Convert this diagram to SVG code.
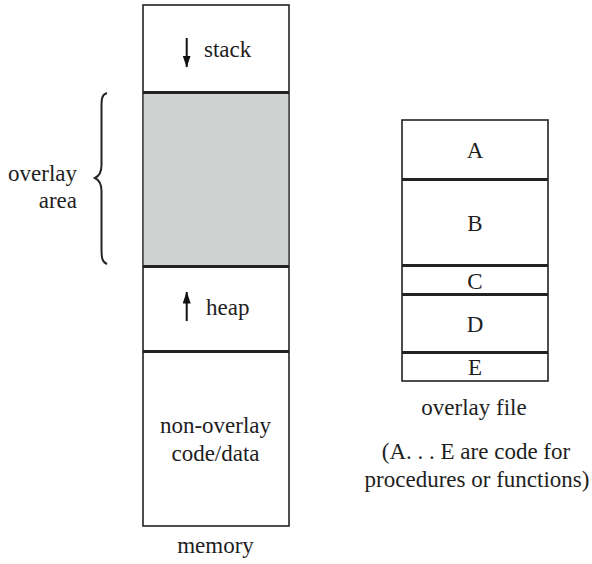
<svg xmlns="http://www.w3.org/2000/svg" width="592" height="564" viewBox="0 0 592 564">
<defs>
<style>
text{font-family:"Liberation Serif","Times New Roman",serif;font-size:23px;fill:#1e1e1e}
.box{fill:#fff;stroke:#222;stroke-width:1.6}
.sep{stroke:#222;stroke-width:3}
.c{text-anchor:middle}
.r{text-anchor:end}
.arr{stroke:#111;stroke-width:2}
</style>
<marker id="ah" viewBox="0 0 12 8" refX="11.5" refY="4" markerWidth="12" markerHeight="8" orient="auto" markerUnits="userSpaceOnUse"><path d="M0,0 L12,4 L0,8 z" fill="#111"/></marker>
</defs>
<g id="memory">
<rect class="box" x="143" y="5" width="146" height="521"/>
<rect x="143.8" y="93" width="144.4" height="174" fill="#d0d1d1"/>
<line class="sep" x1="143" y1="92.5" x2="289" y2="92.5"/>
<line class="sep" x1="143" y1="266.5" x2="289" y2="266.5"/>
<line class="sep" x1="143" y1="351.5" x2="289" y2="351.5"/>
<text x="215.5" y="553" class="c">memory</text>
</g>
<g id="stack">
<line class="arr" x1="186.7" y1="38" x2="186.7" y2="67" marker-end="url(#ah)"/>
<text x="204" y="57">stack</text>
</g>
<g id="heap">
<line class="arr" x1="186.7" y1="321" x2="186.7" y2="292" marker-end="url(#ah)"/>
<text x="206" y="315">heap</text>
</g>
<g id="nonoverlay">
<text x="215.5" y="433" class="c">non-overlay</text>
<text x="215.5" y="461" class="c">code/data</text>
</g>
<g id="overlay-area">
<path d="M107,93 C101,95 101.5,100 101.5,110 L101.5,165 C101.5,172 99,176 95,178 C99,180 101.5,184 101.5,191 L101.5,248 C101.5,258 102,262 107,264" fill="none" stroke="#222" stroke-width="2"/>
<text x="77" y="181" class="r">overlay</text>
<text x="77" y="208" class="r">area</text>
</g>
<g id="overlay-file">
<rect class="box" x="402" y="120" width="146" height="261"/>
<line class="sep" x1="402" y1="179.5" x2="548" y2="179.5"/>
<line class="sep" x1="402" y1="265.5" x2="548" y2="265.5"/>
<line class="sep" x1="402" y1="294.5" x2="548" y2="294.5"/>
<line class="sep" x1="402" y1="352.5" x2="548" y2="352.5"/>
<text x="475" y="158" class="c">A</text>
<text x="475" y="231" class="c">B</text>
<text x="475" y="289" class="c">C</text>
<text x="475" y="332" class="c">D</text>
<text x="475" y="375" class="c">E</text>
<text x="474" y="415" class="c">overlay file</text>
<text x="476" y="459" class="c">(A. . . E are code for</text>
<text x="477" y="487" class="c">procedures or functions)</text>
</g>
<g id="connectors"/>
</svg>
